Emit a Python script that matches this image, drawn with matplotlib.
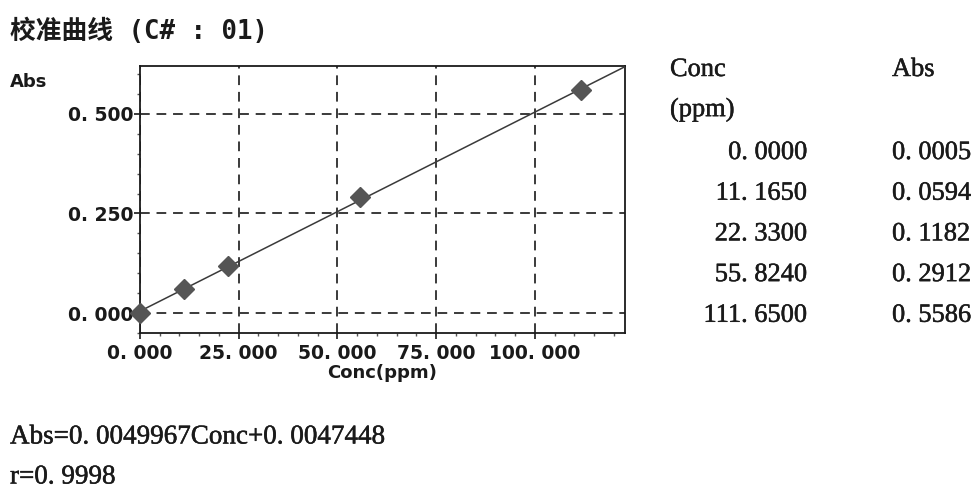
import numpy as np
import matplotlib
matplotlib.use('Agg')
import matplotlib.pyplot as plt
import matplotlib.patheffects as pe
from matplotlib.ticker import MultipleLocator, FuncFormatter

# calibration standards
conc = [0.0, 11.165, 22.33, 55.824, 111.65]
absv = [0.0005, 0.0594, 0.1182, 0.2912, 0.5586]
slope = 0.0049967
intercept = 0.0047448
r_value = 0.9998

x_ticks = [0, 25, 50, 75, 100]
y_ticks = [0.0, 0.25, 0.5]

sans = ['DejaVu Sans', 'Noto Sans CJK SC']
serif = ['Liberation Serif', 'DejaVu Serif']
title_fam = ['DejaVu Sans Mono', 'Noto Sans CJK SC']
ink = '#1a1a1a'
grey = '#555555'
thick = [pe.withStroke(linewidth=0.35, foreground=ink)]


def dotfmt(v, nd):
    return f"{v:.{nd}f}".replace('.', '. ')


fig = plt.figure(figsize=(9.77, 4.97), dpi=100)
ax = fig.add_axes([0.1433, 0.33, 0.4964, 0.5372])

xmax = 122.8
ax.set_xlim(0, xmax)
ax.set_ylim(-0.05, 0.62)

xs = np.array([0, xmax])
ax.plot(xs, slope * xs + intercept, color='#3a3a3a', lw=1.1, zorder=3)
ax.plot(conc, absv, linestyle='none', marker='D', ms=10, color=grey,
        mec=grey, zorder=4, clip_on=False)

ax.set_xticks(x_ticks)
ax.set_yticks(y_ticks)
ax.xaxis.set_minor_locator(MultipleLocator(5))
ax.yaxis.set_minor_locator(MultipleLocator(0.05))
ax.xaxis.set_major_formatter(FuncFormatter(lambda v, p: dotfmt(v, 3)))
ax.yaxis.set_major_formatter(FuncFormatter(lambda v, p: dotfmt(v, 3)))
ax.tick_params(which='major', length=4, width=1.2, color=ink, pad=1,
               labelsize=13.5, labelcolor=ink)
ax.tick_params(which='minor', length=2.5, width=1, color=grey)
ax.tick_params(axis='x', which='major', pad=4)
for lab in ax.get_xticklabels() + ax.get_yticklabels():
    lab.set_family(sans)
    lab.set_fontweight('bold')

ax.grid(True, which='major', linestyle=(0, (5, 3.5)), color='#3a3a3a', lw=1.4)
for s in ax.spines.values():
    s.set_linewidth(1.3)
    s.set_color(ink)

ax.set_xlabel('Conc(ppm)', family=sans, fontweight='bold', fontsize=13,
              color=ink, labelpad=1)

# text around the plot
fig.text(10 / 977, 1 - 32 / 497, '校准曲线 (C# : 01)', family=title_fam,
         fontweight='bold', fontsize=18.5, color=ink, va='center', ha='left')
fig.text(10 / 977, 1 - 82 / 497, 'Abs', family=sans, fontweight='bold',
         fontsize=13, color=ink, va='center', ha='left')

fig.text(10 / 977, 1 - 437 / 497,
         f"Abs={dotfmt(slope, 7)}Conc+{dotfmt(intercept, 7)}",
         family=serif, fontsize=19.5, color=ink, va='center', ha='left',
         path_effects=thick)
fig.text(10 / 977, 1 - 477 / 497, f"r={dotfmt(r_value, 4)}",
         family=serif, fontsize=19.5, color=ink, va='center', ha='left',
         path_effects=thick)

# data table on the right
tfs = 19
fig.text(670 / 977, 1 - 70 / 497, 'Conc', family=serif,
         fontsize=tfs, color=ink, va='center', ha='left', path_effects=thick)
fig.text(892 / 977, 1 - 70 / 497, 'Abs', family=serif,
         fontsize=tfs, color=ink, va='center', ha='left', path_effects=thick)
fig.text(670 / 977, 1 - 110 / 497, '(ppm)', family=serif,
         fontsize=tfs, color=ink, va='center', ha='left', path_effects=thick)
for i, (c, a) in enumerate(zip(conc, absv)):
    yy = 1 - (153 + i * 40.7) / 497
    fig.text(807 / 977, yy, dotfmt(c, 4), family=serif, fontsize=tfs,
             color=ink, va='center', ha='right', path_effects=thick)
    fig.text(892 / 977, yy, dotfmt(a, 4), family=serif, fontsize=tfs,
             color=ink, va='center', ha='left', path_effects=thick)

fig.savefig('out.png', dpi=100, facecolor='white')
